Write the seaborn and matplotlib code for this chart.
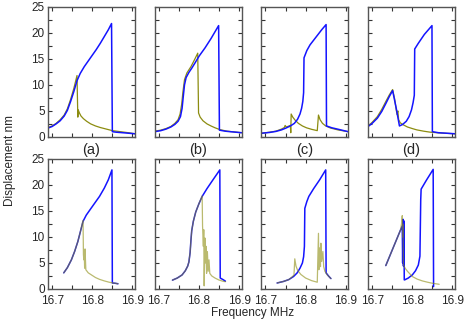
"""Frequency sweeps: displacement vs. drive frequency, forward (blue) and backward (olive)."""

import matplotlib.pyplot as plt
import pandas as pd
import seaborn as sns
from matplotlib.ticker import MultipleLocator

# ---- top row ---------------------------------------------------------------
fwd_a_f = [16.690, 16.700, 16.710, 16.720, 16.730, 16.738, 16.746, 16.754, 16.762, 16.770, 16.780,
           16.790, 16.800, 16.810, 16.820, 16.830, 16.840, 16.848, 16.850, 16.860, 16.876, 16.906]
fwd_a_d = [1.7, 2.0, 2.5, 3.1, 4.0, 5.1, 6.8, 8.7, 10.8, 12.2, 13.5,
           14.6, 15.7, 16.8, 18.0, 19.3, 20.6, 21.8, 1.0, 0.9, 0.8, 0.6]
bwd_a_f = [16.690, 16.700, 16.710, 16.720, 16.730, 16.738, 16.746, 16.754, 16.762, 16.764, 16.765,
           16.768, 16.772, 16.778, 16.786, 16.796, 16.808, 16.820, 16.835, 16.850, 16.870, 16.890, 16.906]
bwd_a_d = [1.8, 2.1, 2.6, 3.3, 4.2, 5.4, 7.2, 9.3, 11.8, 3.8, 5.2,
           4.6, 4.0, 3.5, 3.0, 2.5, 2.1, 1.8, 1.5, 1.2, 1.0, 0.8, 0.6]

fwd_b_f = [16.690, 16.705, 16.718, 16.730, 16.740, 16.748, 16.754, 16.758, 16.761, 16.764, 16.768,
           16.775, 16.782, 16.790, 16.801, 16.815, 16.830, 16.849, 16.851, 16.865, 16.878, 16.906]
fwd_b_d = [1.0, 1.2, 1.5, 1.9, 2.4, 3.0, 3.9, 5.5, 7.8, 10.0, 11.4,
           12.4, 13.2, 14.2, 15.6, 17.1, 18.9, 21.4, 1.3, 1.1, 1.0, 0.8]
bwd_b_f = [16.690, 16.705, 16.718, 16.730, 16.740, 16.748, 16.753, 16.757, 16.760, 16.764, 16.770,
           16.780, 16.790, 16.797, 16.799, 16.803, 16.810, 16.820, 16.830, 16.840, 16.852, 16.870, 16.906]
bwd_b_d = [1.1, 1.3, 1.6, 2.0, 2.6, 3.3, 4.4, 6.3, 8.6, 11.0, 12.3,
           13.5, 15.0, 16.1, 4.6, 3.8, 3.1, 2.5, 2.1, 1.75, 1.4, 1.1, 0.8]

fwd_c_f = [16.690, 16.710, 16.726, 16.740, 16.751, 16.762, 16.772, 16.780, 16.786, 16.790, 16.793,
           16.795, 16.796, 16.803, 16.811, 16.820, 16.830, 16.840, 16.851, 16.852, 16.865, 16.879, 16.906]
fwd_c_d = [0.7, 0.85, 1.05, 1.35, 1.7, 2.1, 2.6, 3.4, 4.4, 5.5, 6.8,
           8.5, 15.2, 16.6, 17.7, 18.6, 19.6, 20.6, 21.6, 2.1, 1.75, 1.5, 1.0]
bwd_c_f = [16.690, 16.710, 16.726, 16.740, 16.747, 16.749, 16.752, 16.762, 16.763, 16.764, 16.768,
           16.774, 16.782, 16.792, 16.802, 16.815, 16.829, 16.832, 16.836, 16.842, 16.850, 16.862,
           16.880, 16.906]
bwd_c_d = [0.7, 0.9, 1.1, 1.5, 1.8, 2.2, 1.9, 2.2, 0.8, 4.4, 3.8,
           3.2, 2.6, 2.1, 1.75, 1.45, 1.2, 4.2, 3.3, 2.6, 2.1, 1.7,
           1.35, 1.0]

fwd_d_f = [16.690, 16.700, 16.713, 16.724, 16.734, 16.743, 16.751, 16.760, 16.768, 16.776, 16.785,
           16.792, 16.798, 16.802, 16.805, 16.806, 16.815, 16.830, 16.849, 16.850, 16.865, 16.906]
fwd_d_d = [2.0, 2.6, 3.6, 4.9, 6.4, 7.8, 8.9, 5.5, 2.1, 2.4, 3.0,
           3.9, 5.2, 6.6, 8.0, 16.9, 18.0, 19.7, 21.4, 1.0, 0.8, 0.6]
bwd_d_f = [16.690, 16.700, 16.713, 16.724, 16.734, 16.743, 16.751, 16.756, 16.760, 16.762, 16.764,
           16.766, 16.770, 16.778, 16.788, 16.800, 16.811, 16.828, 16.845, 16.870, 16.906]
bwd_d_d = [2.1, 2.8, 3.9, 5.3, 6.8, 8.1, 9.1, 7.3, 5.2, 4.3, 5.0,
           3.3, 2.7, 2.3, 1.9, 1.6, 1.35, 1.1, 0.9, 0.75, 0.6]

# ---- bottom row ------------------------------------------------------------
fwd_e_f = [16.729, 16.738, 16.748, 16.756, 16.764, 16.771, 16.777, 16.785, 16.795, 16.806, 16.818,
           16.830, 16.840, 16.849, 16.850, 16.857, 16.864]
fwd_e_d = [3.1, 4.1, 5.6, 7.2, 9.1, 11.2, 13.0, 14.2, 15.3, 16.5, 17.8,
           19.4, 21.0, 22.9, 1.15, 1.1, 1.0]
bwd_e_f = [16.729, 16.738, 16.748, 16.756, 16.764, 16.771, 16.777, 16.778, 16.779, 16.780, 16.781,
           16.782, 16.784, 16.790, 16.798, 16.808, 16.818, 16.830, 16.842, 16.852, 16.864]
bwd_e_d = [3.1, 4.1, 5.6, 7.2, 9.1, 11.2, 13.2, 6.6, 5.6, 7.0, 4.0,
           7.7, 3.7, 3.1, 2.7, 2.2, 1.85, 1.55, 1.3, 1.15, 1.0]

fwd_f_f = [16.734, 16.746, 16.758, 16.766, 16.772, 16.775, 16.778, 16.780, 16.782, 16.786, 16.792,
           16.800, 16.808, 16.820, 16.835, 16.852, 16.853, 16.860, 16.866]
fwd_f_d = [1.7, 2.1, 2.7, 3.5, 4.4, 5.2, 7.0, 9.3, 11.2, 13.0, 14.8,
           16.4, 17.8, 19.3, 21.0, 22.9, 2.1, 1.8, 1.5]
bwd_f_f = [16.734, 16.746, 16.758, 16.766, 16.772, 16.775, 16.778, 16.780, 16.782, 16.786, 16.792,
           16.800, 16.808, 16.809, 16.811, 16.812, 16.813, 16.815, 16.816, 16.818, 16.819, 16.821,
           16.823, 16.825, 16.827, 16.832, 16.840, 16.849, 16.861, 16.866]
bwd_f_d = [1.7, 2.1, 2.7, 3.5, 4.4, 5.2, 7.0, 9.3, 11.2, 13.0, 14.8,
           16.4, 17.9, 12.1, 8.2, 11.4, 0.6, 9.8, 5.0, 8.2, 3.0, 7.2,
           3.4, 5.6, 3.0, 2.5, 2.1, 1.75, 1.45, 1.4]

fwd_g_f = [16.729, 16.745, 16.758, 16.770, 16.779, 16.786, 16.792, 16.795, 16.797, 16.798, 16.803,
           16.808, 16.820, 16.835, 16.850, 16.851, 16.857, 16.863]
fwd_g_d = [1.15, 1.45, 1.8, 2.4, 3.1, 4.0, 5.0, 6.2, 8.2, 15.5, 16.8,
           17.8, 19.3, 21.0, 22.9, 3.1, 2.5, 2.0]
bwd_g_f = [16.729, 16.745, 16.758, 16.766, 16.771, 16.773, 16.776, 16.780, 16.788, 16.800, 16.815,
           16.829, 16.832, 16.833, 16.835, 16.837, 16.838, 16.840, 16.843, 16.845, 16.848, 16.854,
           16.863]
bwd_g_d = [1.15, 1.45, 1.8, 2.3, 2.7, 5.8, 4.4, 3.6, 2.8, 2.1, 1.6,
           1.3, 10.7, 3.7, 7.9, 4.3, 8.8, 5.3, 7.2, 4.3, 3.4, 2.7,
           2.0]

fwd_h_f = [16.734, 16.771, 16.775, 16.776, 16.777, 16.778, 16.779, 16.780, 16.781, 16.790, 16.800,
           16.808, 16.815, 16.819, 16.821, 16.822, 16.835, 16.852, 16.853]
fwd_h_d = [4.5, 11.4, 12.1, 5.0, 13.4, 4.4, 13.1, 1.75, 1.75, 2.1, 2.7,
           3.5, 4.6, 6.3, 17.2, 19.2, 20.9, 23.0, 0.45]
bwd_h_f = [16.734, 16.771, 16.774, 16.775, 16.776, 16.777, 16.778, 16.783, 16.788, 16.794, 16.800,
           16.812, 16.825, 16.838, 16.850, 16.867]
bwd_h_d = [4.5, 11.4, 13.0, 14.1, 10.0, 12.5, 4.6, 3.9, 3.4, 2.9, 2.4,
           1.9, 1.55, 1.3, 1.1, 0.9]

top_panels = [
    (fwd_a_f, fwd_a_d, bwd_a_f, bwd_a_d),
    (fwd_b_f, fwd_b_d, bwd_b_f, bwd_b_d),
    (fwd_c_f, fwd_c_d, bwd_c_f, bwd_c_d),
    (fwd_d_f, fwd_d_d, bwd_d_f, bwd_d_d),
]
bottom_panels = [
    (fwd_e_f, fwd_e_d, bwd_e_f, bwd_e_d),
    (fwd_f_f, fwd_f_d, bwd_f_f, bwd_f_d),
    (fwd_g_f, fwd_g_d, bwd_g_f, bwd_g_d),
    (fwd_h_f, fwd_h_d, bwd_h_f, bwd_h_d),
]
panel_labels = ["(a)", "(b)", "(c)", "(d)"]

BLUE = "#1414ff"
OLIVE = "#8c8c10"

sns.set_theme(style="ticks")
plt.rcParams["font.family"] = ["Liberation Sans", "DejaVu Sans"]

fig, axes = plt.subplots(2, 4, figsize=(4.67, 3.28), dpi=100, sharex=True, sharey=True)
fig.subplots_adjust(left=0.103, right=0.974, top=0.979, bottom=0.119, wspace=0.23, hspace=0.17)


def sweep(ax, f, d, color, lw, alpha=1.0):
    df = pd.DataFrame({"freq": f, "disp": d})
    sns.lineplot(data=df, x="freq", y="disp", sort=False, estimator=None,
                 color=color, lw=lw, alpha=alpha, ax=ax)


for col, (ff, fd, bf, bd) in enumerate(top_panels):
    ax = axes[0, col]
    sweep(ax, bf, bd, OLIVE, 0.9)
    sweep(ax, ff, fd, BLUE, 1.1)
    ax.text(0.5, -0.1, panel_labels[col], transform=ax.transAxes,
            ha="center", va="center", fontsize=10.5)

for col, (ff, fd, bf, bd) in enumerate(bottom_panels):
    ax = axes[1, col]
    sweep(ax, ff, fd, BLUE, 1.1)
    sweep(ax, bf, bd, OLIVE, 0.9, alpha=0.6)

for row in range(2):
    for col in range(4):
        ax = axes[row, col]
        ax.set_xlim(16.69, 16.906)
        ax.set_ylim(0, 25)
        ax.set_xlabel("")
        ax.set_ylabel("")
        ax.xaxis.set_major_locator(MultipleLocator(0.1))
        ax.xaxis.set_minor_locator(MultipleLocator(0.05))
        ax.yaxis.set_major_locator(MultipleLocator(5))
        ax.yaxis.set_minor_locator(MultipleLocator(2.5))
        for side in ["left", "right", "top", "bottom"]:
            ax.spines[side].set_visible(True)
            ax.spines[side].set_color("#555555")
            ax.spines[side].set_linewidth(1.0)
        ax.tick_params(which="both", top=True, right=True, direction="in",
                       length=3, width=0.8, color="#333333", labelsize=8.5)
        ax.tick_params(axis="x", which="both", bottom=True, labelbottom=(row == 1), pad=4.5)
        ax.tick_params(axis="y", which="both", labelleft=(col == 0), pad=2.5)

fig.text(0.022, 0.51, "Displacement nm", rotation=90, ha="center", va="center", fontsize=8.5)
fig.text(0.54, 0.045, "Frequency MHz", ha="center", va="center", fontsize=8.5)

fig.savefig("out.png", dpi=100)
